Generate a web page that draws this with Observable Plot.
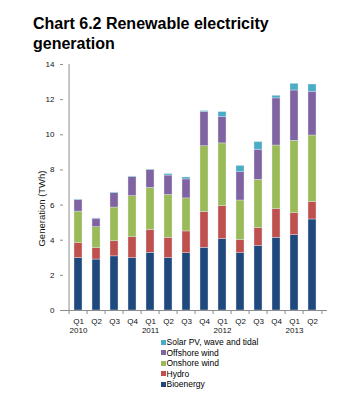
<!DOCTYPE html>
<html>
<head>
<meta charset="utf-8">
<script src="https://cdn.jsdelivr.net/npm/d3@7"></script>
<script src="https://cdn.jsdelivr.net/npm/@observablehq/plot@0.6"></script>
<style>
  html, body { margin: 0; padding: 0; background: #fff; }
  body { width: 350px; height: 396px; position: relative; overflow: hidden; font-family: "Liberation Sans", Arial, sans-serif; }
  #title { position: absolute; left: 33px; top: 14px; font-size: 16px; line-height: 20px; font-weight: bold; color: #000; }
  #chart { position: absolute; left: 0; top: 50px; }
  #legend { position: absolute; left: 161px; top: 337px; font-size: 8.5px; color: #000; }
  #legend .row { height: 10.5px; line-height: 10.5px; display: flex; align-items: center; white-space: nowrap; }
  #legend .sw { width: 5px; height: 5px; margin-right: 0.5px; display: inline-block; }
</style>
</head>
<body>
<div id="title">Chart 6.2 Renewable electricity<br>generation</div>
<div id="chart"></div>
<div id="legend"></div>
<script>
// ---- data (TWh) ----
const quarters = ["Q1","Q2","Q3","Q4","Q1","Q2","Q3","Q4","Q1","Q2","Q3","Q4","Q1","Q2"];
const years    = ["2010","2010","2010","2010","2011","2011","2011","2011","2012","2012","2012","2012","2013","2013"];
const seriesNames = ["Bioenergy","Hydro","Onshore wind","Offshore wind","Solar PV, wave and tidal"];
const bioenergy = [2.98, 2.90, 3.08, 2.98, 3.28, 2.98, 3.26, 3.57, 4.06, 3.26, 3.66, 4.14, 4.29, 5.18];
const hydro     = [0.85, 0.65, 0.86, 1.19, 1.31, 1.16, 1.24, 2.03, 1.88, 0.76, 1.03, 1.63, 1.25, 0.99];
const onshore   = [1.80, 1.19, 1.92, 2.34, 2.39, 2.44, 1.88, 3.75, 3.57, 2.24, 2.75, 3.62, 4.12, 3.79];
const offshore  = [0.66, 0.47, 0.82, 1.08, 1.01, 1.10, 1.08, 1.94, 1.49, 1.61, 1.71, 2.68, 2.86, 2.47];
const solar     = [0.02, 0.03, 0.03, 0.03, 0.03, 0.08, 0.11, 0.06, 0.29, 0.36, 0.43, 0.15, 0.38, 0.43];
const yTicks = [0, 2, 4, 6, 8, 10, 12, 14];
const yLabel = "Generation (TWh)";
const colors = ["#1F497D", "#C0504D", "#9BBB59", "#8064A2", "#4BACC6"];

// ---- build table ----
const keys = quarters.map((q, i) => years[i] + " " + q);
const seriesValues = [bioenergy, hydro, onshore, offshore, solar];
const rows = [];
seriesNames.forEach((s, si) => {
  keys.forEach((k, i) => rows.push({key: k, series: s, value: seriesValues[si][i]}));
});

const font = "Liberation Sans, Arial, sans-serif";
const step = (350 - 63 - 23) / keys.length;

const chart = Plot.plot({
  width: 350,
  height: 300,
  marginTop: 14,
  marginBottom: 40,
  marginLeft: 63,
  marginRight: 23,
  style: {fontFamily: font, fontSize: "8px", color: "#111", background: "transparent"},
  x: {type: "band", domain: keys, paddingInner: 0.56, paddingOuter: 0.28, axis: null},
  y: {domain: [0, 14], axis: null},
  color: {domain: seriesNames, range: colors},
  marks: [
    Plot.barY(rows, {
      x: "key", y: "value", fill: "series",
      order: seriesNames,
      stroke: "#dfe6ef", strokeWidth: 0.5, strokeOpacity: 0.8
    }),
    // axes lines
    Plot.ruleY([0], {stroke: "#8c8c8c", strokeWidth: 1}),
    Plot.ruleX([keys[0]], {y1: 0, y2: 14, dx: -step / 2, stroke: "#8c8c8c", strokeWidth: 1}),
    // x boundary ticks
    Plot.ruleX(keys, {y1: 0, y2: 0, insetBottom: -4, dx: -step / 2, stroke: "#8c8c8c"}),
    Plot.ruleX([keys[keys.length - 1]], {y1: 0, y2: 0, insetBottom: -4, dx: step / 2, stroke: "#8c8c8c"}),
    Plot.axisY({ticks: yTicks, tickSize: 3, tickPadding: 6, stroke: "#8c8c8c", label: null, fontSize: 8, fill: "#111"}),
    Plot.axisX({
      tickSize: 0, tickPadding: 7, label: null, fontSize: 8, fill: "#111", lineHeight: 1.1,
      tickFormat: (d, i) => quarters[i] + "\n" + (quarters[i] === "Q1" ? years[i] : "")
    }),
    Plot.text([yLabel], {
      frameAnchor: "left", rotate: -90, dx: -22, dy: 21,
      fontSize: 9.5, fill: "#111", textAnchor: "middle"
    })
  ]
});
document.getElementById("chart").appendChild(chart);

// ---- legend (top to bottom reversed stacking order) ----
const legend = document.getElementById("legend");
seriesNames.slice().reverse().forEach((s) => {
  const row = document.createElement("div");
  row.className = "row";
  const sw = document.createElement("span");
  sw.className = "sw";
  sw.style.background = colors[seriesNames.indexOf(s)];
  row.appendChild(sw);
  row.appendChild(document.createTextNode(s));
  legend.appendChild(row);
});
</script>
</body>
</html>
